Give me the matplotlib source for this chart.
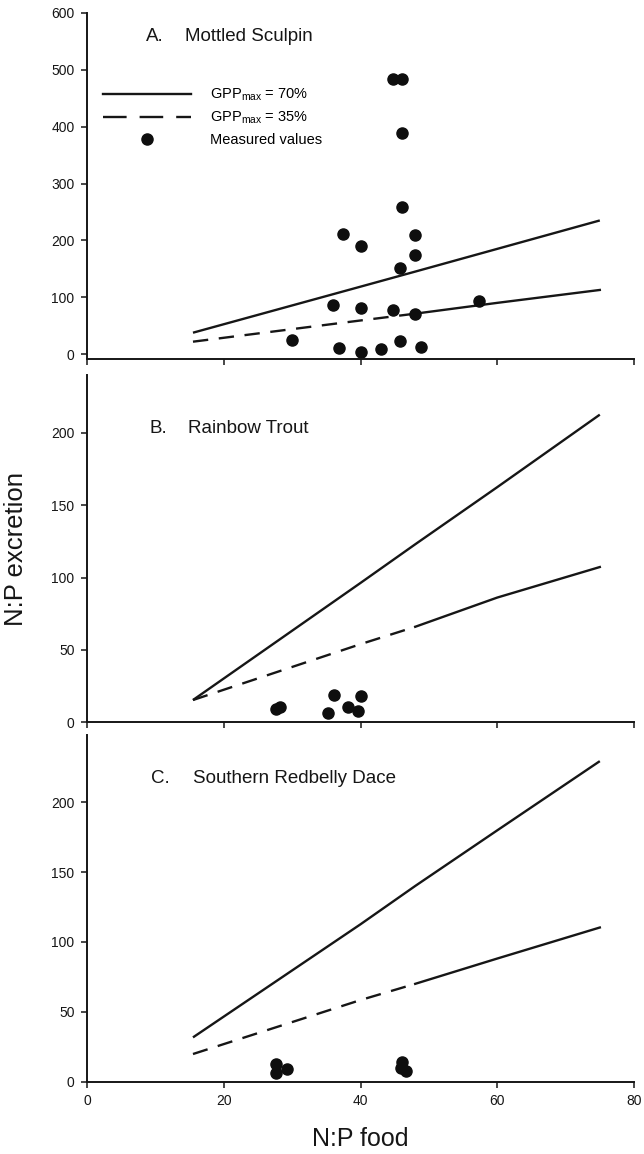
import matplotlib
matplotlib.use('Agg')
import matplotlib.pyplot as plt
from matplotlib.lines import Line2D

plt.rcParams['font.family'] = ['Liberation Sans', 'DejaVu Sans']
plt.rcParams['mathtext.fontset'] = 'custom'
plt.rcParams['mathtext.rm'] = 'Liberation Sans'
plt.rcParams['mathtext.it'] = 'Liberation Sans:italic'

# ---- data ----
line_x = [15.5, 40, 48, 60, 75]
a_gpp70 = [37.5, 118.5, 145, 185, 235]
a_gpp35 = [21.7, 59, 71, 90, 112.7]
b_gpp70 = [15.4, 96.3, 123, 162.5, 212.6]
b_gpp35 = [15.4, 54, 66, 86.2, 107.3]
c_gpp70 = [31.7, 112.6, 140, 179.8, 229.3]
c_gpp35 = [19.8, 58.4, 70, 88.1, 110.3]

a_x = [44.7, 46.1, 46.1, 46.1, 37.4, 47.9, 40.1, 47.9, 45.8, 36.0,
       40.1, 44.8, 47.9, 57.3, 30.0, 36.9, 40.0, 43.0, 45.8, 48.9]
a_y = [484, 484, 389, 259, 212, 209, 190, 175, 151, 86,
       81.5, 77, 70, 94, 24.6, 11, 4, 8, 23, 13]
b_x = [27.6, 28.2, 36.1, 40.0, 38.2, 35.2, 39.7]
b_y = [9.0, 10.8, 18.8, 18.4, 10.8, 6.2, 7.8]
c_x = [27.7, 27.7, 29.3, 46.1, 45.9, 46.6]
c_y = [12.6, 6.0, 9.1, 14.3, 9.5, 8.0]

panel_letters = ['A.', 'B.', 'C.']
panel_names = ['Mottled Sculpin', 'Rainbow Trout', 'Southern Redbelly Dace']
a_yticks = [0, 100, 200, 300, 400, 500, 600]
bc_yticks = [0, 50, 100, 150, 200]
x_ticks = [0, 20, 40, 60, 80]
legend_labels = [r'GPP$_{\mathregular{max}}$ = 70%', r'GPP$_{\mathregular{max}}$ = 35%', 'Measured values']

# ---- layout ----
W, H = 644, 1154
fig = plt.figure(figsize=(W / 100, H / 100), dpi=100)
left = 87 / W
width = (634 - 87) / W
boxes = [(13, 359.3), (375, 722.3), (735, 1081.7)]
axes = []
for top, bot in boxes:
    axes.append(fig.add_axes([left, 1 - bot / H, width, (bot - top) / H]))

ylims = [(-9.3, 600), (0, 240), (0, 248)]
lines70 = [a_gpp70, b_gpp70, c_gpp70]
lines35 = [a_gpp35, b_gpp35, c_gpp35]
pts = [(a_x, a_y), (b_x, b_y), (c_x, c_y)]
title_y = [0.932, 0.847, 0.875]
letter_x = [0.1075, 0.115, 0.1175]
name_x = [0.18, 0.184, 0.193]
split = 2
dash = (6.5, 4.5)
lw = 1.7
ink = '#161616'

for i, ax in enumerate(axes):
    ax.set_xlim(0, 80)
    ax.set_ylim(*ylims[i])
    ax.spines['top'].set_visible(False)
    ax.spines['right'].set_visible(False)
    for s in ['left', 'bottom']:
        ax.spines[s].set_linewidth(1.4)
        ax.spines[s].set_color(ink)
    ax.tick_params(direction='out', length=4, width=1.1, labelsize=10,
                   colors=ink, pad=5)
    ax.set_xticks(x_ticks)
    ax.set_yticks(a_yticks if i == 0 else bc_yticks)
    if i < 2:
        ax.set_xticklabels([])
    ax.plot(line_x, lines70[i], color=ink, lw=lw, solid_capstyle='butt')
    ax.plot(line_x[:split + 1], lines35[i][:split + 1], color=ink, lw=lw,
            dashes=dash)
    ax.plot(line_x[split:], lines35[i][split:], color=ink, lw=lw)
    ax.plot(pts[i][0], pts[i][1], 'o', color='#0e0e0e', ms=8, mec='#0e0e0e',
            clip_on=False)
    ax.text(letter_x[i], title_y[i], panel_letters[i], transform=ax.transAxes,
            fontsize=13.5, ha='left', va='center', color=ink)
    ax.text(name_x[i], title_y[i], panel_names[i], transform=ax.transAxes,
            fontsize=13.5, ha='left', va='center', color=ink)

handles = [Line2D([], [], color=ink, lw=lw),
           Line2D([], [], color=ink, lw=lw, dashes=(10, 5.5)),
           Line2D([], [], color='#0e0e0e', marker='o', ls='none', ms=8)]
axes[0].legend(handles, legend_labels, loc='upper left',
               bbox_to_anchor=(0.03, 0.787), frameon=False, fontsize=10.5,
               handlelength=6.0, handletextpad=1.3, labelspacing=0.45,
               borderpad=0, borderaxespad=0)

axes[1].set_ylabel('N:P excretion', fontsize=18.5, color=ink)
axes[1].yaxis.set_label_coords(-0.1300, 0.5)
axes[1].yaxis.label.set_verticalalignment('center')
axes[2].set_xlabel('N:P food', fontsize=18, color=ink)
axes[2].xaxis.set_label_coords(0.5, -0.166)
axes[2].xaxis.label.set_verticalalignment('center')

fig.savefig('out.png', dpi=100)
